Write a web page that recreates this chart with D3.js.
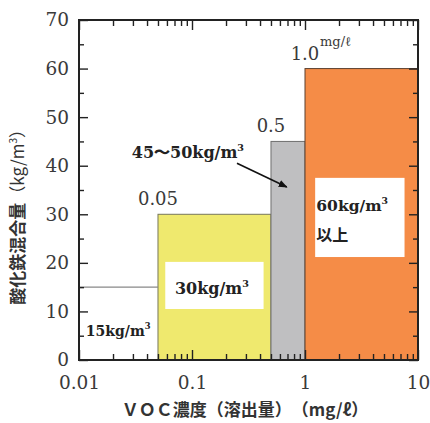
<!DOCTYPE html>
<html>
<head>
<meta charset="utf-8">
<script src="https://cdn.jsdelivr.net/npm/d3@7"></script>
<style>
  body { margin: 0; background: #fff; }
  svg { display: block; }
</style>
</head>
<body>
<script>
// bins of VOC concentration (mg/l) and required iron oxide (kg/m3)
const binStart = [0.05, 0.5, 1];
const binEnd = [0.5, 1, 10];
const mixValues = [30, 45, 60];
const binNames = ["30kg/m", "45〜50kg/m", "60kg/m"];
// below 0.05 mg/l
const baseFrom = 0.01, baseTo = 0.05, baseValue = 15;
const thresholds = [0.05, 0.5, 1];
const thresholdLabels = ["0.05", "0.5", "1.0"];
const xTickValues = [0.01, 0.1, 1, 10];
const xTickLabels = ["0.01", "0.1", "1", "10"];
const yTickValues = [0, 10, 20, 30, 40, 50, 60, 70];

var W = 430, H = 423;
var margin = { top: 20, right: 12, bottom: 63, left: 79 },
    width = W - margin.left - margin.right,
    height = H - margin.top - margin.bottom;

var serif = "'DejaVu Serif', serif";
var cjk = "'Noto Sans CJK JP', sans-serif";

var svg = d3.select("body").append("svg")
    .attr("width", W)
    .attr("height", H);

var g = svg.append("g")
    .attr("transform", "translate(" + margin.left + "," + margin.top + ")");

var x = d3.scaleLog().domain([0.01, 10]).range([0, width]);
var y = d3.scaleLinear().domain([0, 70]).range([height, 0]);

var fills = ["#efe96e", "#bfbfc1", "#f58c47"];
var strokes = ["#77775a", "#6e6e6e", "#5a4030"];

// bars
g.selectAll("rect.bar")
    .data(mixValues)
    .enter().append("rect")
    .attr("class", "bar")
    .attr("x", function (d, i) { return x(binStart[i]); })
    .attr("width", function (d, i) { return x(binEnd[i]) - x(binStart[i]); })
    .attr("y", function (d) { return y(d); })
    .attr("height", function (d) { return y(0) - y(d); })
    .style("fill", function (d, i) { return fills[i]; })
    .style("stroke", function (d, i) { return strokes[i]; })
    .style("stroke-width", 1);

// 15 kg line
g.append("line")
    .attr("x1", x(baseFrom)).attr("x2", x(baseTo))
    .attr("y1", y(baseValue)).attr("y2", y(baseValue))
    .style("stroke", "#888").style("stroke-width", 1.2);

// white label boxes
var boxes = [
    { x0: 0.058, x1: 0.43, y0: 10.5, y1: 20.2 },
    { x0: 1.23, x1: 7.6, y0: 21.2, y1: 37.5 }
];
g.selectAll("rect.box")
    .data(boxes)
    .enter().append("rect")
    .attr("class", "box")
    .attr("x", function (d) { return x(d.x0); })
    .attr("width", function (d) { return x(d.x1) - x(d.x0); })
    .attr("y", function (d) { return y(d.y1); })
    .attr("height", function (d) { return y(d.y0) - y(d.y1); })
    .style("fill", "#fff");

// axes, ticks pointing inward
function minorTicks() {
    return x.ticks().filter(function (t) {
        return xTickValues.indexOf(t) < 0;
    });
}
var yMinor = d3.range(5, 70, 10);

function styleAxis(sel) {
    sel.select(".domain").remove();
    sel.selectAll(".tick line").style("stroke", "#222").style("stroke-width", 1.4);
    sel.selectAll(".tick text")
        .style("font-family", serif).style("font-size", "18.5px").style("fill", "#3a3a3a");
}

g.append("g").attr("transform", "translate(0," + height + ")")
    .call(d3.axisBottom(x).tickValues(xTickValues).tickSize(-10).tickPadding(16)
        .tickFormat(function (d, i) { return xTickLabels[i]; }))
    .call(styleAxis);
g.append("g").attr("transform", "translate(0," + height + ")")
    .call(d3.axisBottom(x).tickValues(minorTicks()).tickSize(-6).tickFormat(""))
    .call(styleAxis);
g.append("g")
    .call(d3.axisTop(x).tickValues(xTickValues).tickSize(-10).tickFormat(""))
    .call(styleAxis);
g.append("g")
    .call(d3.axisTop(x).tickValues(minorTicks()).tickSize(-6).tickFormat(""))
    .call(styleAxis);

g.append("g")
    .call(d3.axisLeft(y).tickValues(yTickValues).tickSize(-9).tickPadding(10))
    .call(styleAxis);
g.append("g")
    .call(d3.axisLeft(y).tickValues(yMinor).tickSize(-5).tickFormat(""))
    .call(styleAxis);
g.append("g").attr("transform", "translate(" + width + ",0)")
    .call(d3.axisRight(y).tickValues(yTickValues).tickSize(-9).tickFormat(""))
    .call(styleAxis);
g.append("g").attr("transform", "translate(" + width + ",0)")
    .call(d3.axisRight(y).tickValues(yMinor).tickSize(-5).tickFormat(""))
    .call(styleAxis);

// frame
g.append("rect")
    .attr("width", width).attr("height", height)
    .style("fill", "none").style("stroke", "#222").style("stroke-width", 2);

// threshold labels above bars
g.selectAll("text.thr")
    .data(thresholds)
    .enter().append("text")
    .attr("class", "thr")
    .attr("x", function (d) { return x(d); })
    .attr("y", function (d, i) { return y(mixValues[i]) - 9; })
    .attr("text-anchor", "middle")
    .style("font-family", serif).style("font-size", "18px").style("fill", "#3a3a3a")
    .text(function (d, i) { return thresholdLabels[i]; });

g.append("text")
    .attr("x", x(1) + 15)
    .attr("y", y(60) - 23)
    .style("font-family", serif).style("font-size", "13px").style("fill", "#3a3a3a")
    .text("mg/ℓ");

// value labels
function unitLabel(px, py, txt, size, anchor) {
    var t = g.append("text")
        .attr("x", px).attr("y", py)
        .attr("text-anchor", anchor || "start")
        .style("font-family", serif).style("font-size", size + "px")
        .style("font-weight", "bold").style("fill", "#222");
    t.append("tspan").text(txt);
    t.append("tspan").attr("dy", -size * 0.45).style("font-size", (size * 0.6) + "px").text("3");
    return t;
}

unitLabel(x(0.0115), y(5), "15kg/m", 14);
unitLabel(x(0.15), y(13.5), binNames[0], 16, "middle");
unitLabel(x(0.092), y(41.6), binNames[1], 16, "middle");
unitLabel(x(1.26), y(30.6), binNames[2], 15.5);
g.append("text")
    .attr("x", x(1.26)).attr("y", y(24.5))
    .style("font-family", cjk).style("font-size", "16px")
    .style("font-weight", "bold").style("fill", "#222")
    .text("以上");

// arrow to the grey bar
svg.append("defs").append("marker")
    .attr("id", "ah").attr("viewBox", "0 0 10 10")
    .attr("refX", 9).attr("refY", 5)
    .attr("markerWidth", 9).attr("markerHeight", 9)
    .attr("orient", "auto").attr("markerUnits", "userSpaceOnUse")
    .append("path").attr("d", "M0,1 L10,5 L0,9 Z").style("fill", "#111");

g.append("line")
    .attr("x1", x(0.25)).attr("y1", y(40.5))
    .attr("x2", x(0.69)).attr("y2", y(35.6))
    .style("stroke", "#111").style("stroke-width", 1.6)
    .attr("marker-end", "url(#ah)");

// axis titles
svg.append("text")
    .attr("x", 245)
    .attr("y", 416)
    .attr("text-anchor", "middle")
    .style("font-family", cjk).style("font-size", "17px")
    .style("font-weight", "bold").style("fill", "#333")
    .text("ＶＯＣ濃度（溶出量）　（mg/ℓ）");

var yt = svg.append("text")
    .attr("transform", "translate(24," + (margin.top + y(30.3)) + ") rotate(-90)")
    .attr("text-anchor", "middle")
    .style("font-family", cjk).style("font-size", "17px").style("fill", "#333");
yt.append("tspan").style("font-weight", "bold").text("酸化鉄混合量");
yt.append("tspan").text("（kg/m");
yt.append("tspan").attr("dy", -7).style("font-size", "10px").text("3");
yt.append("tspan").attr("dy", 7).text("）");
</script>
</body>
</html>
